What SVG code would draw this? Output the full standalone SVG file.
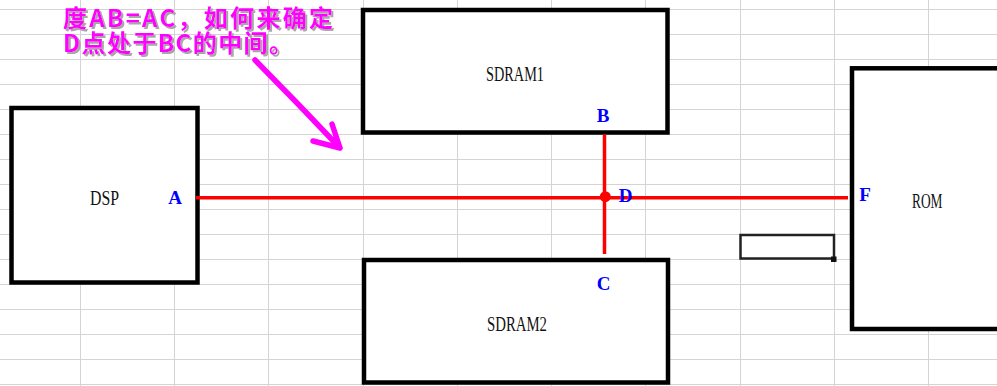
<svg xmlns="http://www.w3.org/2000/svg" width="997" height="386" viewBox="0 0 997 386">
<defs>
<filter id="shadow" x="-5%" y="-20%" width="115%" height="150%">
<feOffset in="SourceAlpha" dx="2" dy="2" result="off"/>
<feFlood flood-color="#a8a8a8"/>
<feComposite in2="off" operator="in" result="sh"/>
<feMerge><feMergeNode in="sh"/><feMergeNode in="SourceGraphic"/></feMerge>
</filter>
</defs>
<style>
.grid{stroke:#d4d4d4;stroke-width:1;fill:none}
.box{fill:#fff;stroke:#000;stroke-width:4.5}
.lbl{font-family:"Liberation Serif",serif;font-size:20px;fill:#111}
.pin{font-family:"Liberation Serif",serif;font-size:19px;font-weight:bold;fill:#0000ff;text-anchor:middle}
.wire{stroke:#ff0000;stroke-width:3.5;fill:none}
.note{font-family:"Noto Sans CJK SC",sans-serif;font-size:24px;font-weight:bold;fill:#ff00ff}
</style>
<rect width="997" height="386" fill="#fff"/>
<g id="grid">
<path class="grid" d="M80.5 0V386M174.5 0V386M268.5 0V386M363.5 0V386M457.5 0V386M551.5 0V386M645.5 0V386M740.5 0V386M834.5 0V386M928.5 0V386M0 9.5H997M0 34.5H997M0 59.5H997M0 84.5H997M0 109.5H997M0 134.5H997M0 159.5H997M0 184.5H997M0 209.5H997M0 234.5H997M0 259.5H997M0 284.5H997M0 309.5H997M0 334.5H997M0 359.5H997M0 384.5H997"/>
</g>
<g id="dsp">
<rect class="box" x="11.5" y="108" width="186" height="174.5"/>
<text class="lbl" x="90" y="205" textLength="29" lengthAdjust="spacingAndGlyphs">DSP</text>
</g>
<g id="sdram1">
<rect class="box" x="363" y="10" width="304.5" height="122.5"/>
<text class="lbl" x="486" y="81" textLength="58" lengthAdjust="spacingAndGlyphs">SDRAM1</text>
</g>
<g id="sdram2">
<rect class="box" x="364" y="260" width="304" height="122.5"/>
<text class="lbl" x="487" y="331" textLength="60" lengthAdjust="spacingAndGlyphs">SDRAM2</text>
</g>
<g id="rom">
<rect class="box" x="852" y="68.3" width="200" height="260.7"/>
<text class="lbl" x="912" y="208.3" textLength="30.5" lengthAdjust="spacingAndGlyphs">ROM</text>
</g>
<g id="cell">
<rect x="740.5" y="235" width="93.5" height="23.5" fill="none" stroke="#222" stroke-width="2.5"/>
<rect x="831" y="256.5" width="5.5" height="5.5" fill="#111"/>
</g>
<g id="connectors">
<line class="wire" x1="196" y1="197.7" x2="848" y2="197.7"/>
<line class="wire" x1="604.5" y1="134.5" x2="604.5" y2="254"/>
<circle cx="605.3" cy="196.7" r="5.5" fill="#ff0000"/>
</g>
<g id="pins">
<text class="pin" x="175" y="204.3">A</text>
<text class="pin" x="603" y="121.7">B</text>
<text class="pin" x="603.5" y="290">C</text>
<text class="pin" x="625.5" y="202.3">D</text>
<text class="pin" x="865" y="201">F</text>
</g>
<g id="note">
<g filter="url(#shadow)">
<text class="note" x="63" y="27" textLength="270" lengthAdjust="spacing">度AB=AC，如何来确定</text>
<text class="note" x="63" y="52" textLength="230" lengthAdjust="spacing">D点处于BC的中间。</text>
</g>
<path d="M255 60L298 104L340 148M313 141L340 148L332 124" fill="none" stroke="#ff00ff" stroke-width="5.5" stroke-linecap="round" stroke-linejoin="round"/>
</g>
</svg>
